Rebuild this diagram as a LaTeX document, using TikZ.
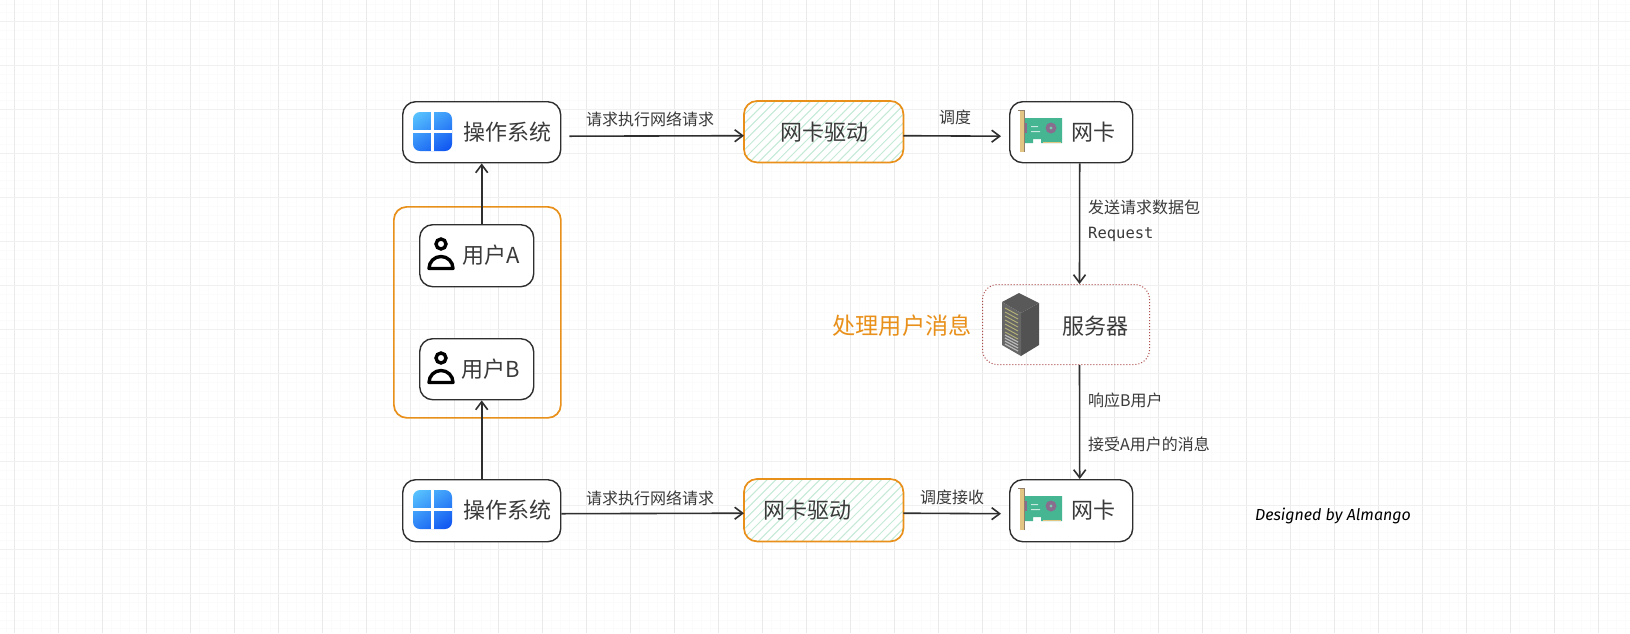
\documentclass[tikz,border=0pt]{standalone}
\usepackage{fontspec}
\setmainfont{Noto Sans CJK SC}
\newfontfamily\monof{DejaVu Sans Mono}
\newfontfamily\handf{Fira Sans}
\usetikzlibrary{arrows.meta,calc}
\definecolor{ink}{HTML}{2F2F2F}
\definecolor{txt}{HTML}{3A3A3A}
\definecolor{org}{HTML}{E8901A}
\definecolor{gmaj}{HTML}{EAEAEA}
\definecolor{gmin}{HTML}{FBFBFB}
\definecolor{hatch}{HTML}{C4EAD6}
\definecolor{winA}{HTML}{5CC9FF}
\definecolor{winB}{HTML}{0A4DF0}
\definecolor{board}{HTML}{45B592}
\definecolor{brack}{HTML}{E3C583}
\definecolor{chip}{HTML}{8A6D8E}
\tikzset{
  x=1pt,y=-1pt,
  plain/.style={draw=ink,line width=1.4pt,rounded corners=13pt,fill=white,inner sep=0pt,anchor=north west},
  orangebox/.style={draw=org,line width=1.7pt,rounded corners=13pt,inner sep=0pt,anchor=north west},
  hatchbox/.style={inner sep=0pt,anchor=north west},
  srvbox/.style={draw=red!55!black!70,line width=1pt,dash pattern=on 1pt off 2pt,rounded corners=15pt,inner sep=0pt,anchor=north west},
  big/.style={text=txt,font=\fontsize{22}{24}\selectfont,inner sep=0pt},
  small/.style={text=txt,font=\fontsize{16}{18}\selectfont,inner sep=0pt},
  conn/.style={draw=ink,line width=1.6pt,-{Straight Barb[length=8pt,width=12pt,line width=1.6pt]}},
}
\newcommand{\boxat}[6]{\node[#1,minimum width=#5pt,minimum height=#6pt] (#2) at (#3,#4) {};}
\newcommand{\winicon}[2]{%
  \begin{scope}[shift={(#1,#2)}]
    \begin{scope}
      \clip[rounded corners=7pt] (0,0) rectangle (39,39);
      \shade[top color=winA,bottom color=winB,shading angle=35] (-8,-8) rectangle (47,47);
      \fill[white] (18.2,-1) rectangle (20.8,40);
      \fill[white] (-1,18.2) rectangle (40,20.8);
    \end{scope}
  \end{scope}}
\newcommand{\nicicon}[2]{%
  \begin{scope}[shift={(#1,#2)}]
    \fill[board] (6,9) -- (44,9) -- (44,34) -- (23,34) -- (23,30) -- (15,30) -- (15,34) -- (6,34) -- cycle;
    \fill[chip] (33,19) circle (5.5);
    \fill[board!70!white] (33,19) circle (1.6);
    \fill[white!70!board] (13,17) rectangle (20,18) (13,22) rectangle (22,23);
    \fill[chip] (6,14) rectangle (9,24);
    \fill[brack] (25,32.5) rectangle (43,34);
    \fill[brack] (1.5,1) rectangle (6,43);
    \draw[gray!70!brown,line width=.7pt] (0,1) -- (6,1) -- (6,43);
  \end{scope}}
\newcommand{\usericon}[2]{%
  \begin{scope}[shift={(#1,#2)}]
    \draw[black,line width=3.4pt] (0,-8) circle (5);
    \draw[black,line width=3.4pt,line join=round] (-12,16.5) arc[start angle=180,end angle=360,radius=12] -- cycle;
  \end{scope}}
\begin{document}
\begin{tikzpicture}
\useasboundingbox (0,0) rectangle (1630,633);
\fill[white] (0,0) rectangle (1630,633);
% grid
\foreach \k in {0,...,185} {\draw[gmin,line width=.8pt] ({6+8.8*\k},0) -- ({6+8.8*\k},633);}
\foreach \k in {0,...,72} {\draw[gmin,line width=.8pt] (0,{4+8.8*\k}) -- (1630,{4+8.8*\k});}
\foreach \k in {0,...,37} {\draw[gmaj,line width=.8pt] ({14.7+44*\k},0) -- ({14.7+44*\k},633);}
\foreach \k in {0,...,14} {\draw[gmaj!70!white,line width=1pt] (0,{21.7+44*\k}) -- (1630,{21.7+44*\k});}
% group and boxes
\boxat{orangebox}{grp}{393}{206}{167}{211}
\boxat{plain}{os1}{402}{101}{158}{61}
\boxat{plain}{ua}{419}{224}{114}{62}
\boxat{plain}{ub}{419}{338}{114}{61}
\boxat{plain}{os2}{402}{479}{158}{62}
\boxat{hatchbox}{drv1}{744}{101}{159}{61}
\boxat{hatchbox}{drv2}{744}{479}{159}{62}
\boxat{plain}{nic1}{1009}{101}{123}{61}
\boxat{plain}{nic2}{1009}{479}{123}{62}
\boxat{srvbox}{srv}{982}{284}{167}{80}
% hatch
\foreach \n in {drv1,drv2} {
  \begin{scope}
    \clip[rounded corners=13pt] (\n.north west) rectangle (\n.south east);
    \fill[white] (\n.north west) rectangle (\n.south east);
    \foreach \k in {0,...,28} {
      \draw[hatch,line width=1pt] ($(\n.south west)+({-70+8.8*\k},5)$) -- ++(80,-80);
    }
  \end{scope}
  \draw[org,line width=1.7pt,rounded corners=13pt] (\n.north west) rectangle (\n.south east);
}
% icons
\winicon{413}{112}
\winicon{413}{490}
\nicicon{1018}{109}
\nicicon{1018}{487}
\usericon{441}{252}
\usericon{441}{366}
% server icon
\fill[gray!70!black] (1019,293) -- (1039,303) -- (1021,313) -- (1002,302) -- cycle;
\fill[black!68] (1021,313) -- (1039,303) -- (1039,345) -- (1021,356) -- cycle;
\fill[black!60] (1002,302) -- (1021,313) -- (1021,356) -- (1002,345) -- cycle;
\foreach \k in {0,...,6} {\draw[yellow!35!gray,line width=.9pt] (1005,{308+4*\k}) -- (1018,{315+4*\k});}
\foreach \k in {0,...,3} {\draw[gray!55!white,line width=1.2pt] (1005,{335+3*\k}) -- (1018,{342+3*\k});}
% texts
\node[big] (t1) at (507,132) {操作系统};
\node[big] (t2) at (507,510) {操作系统};
\node[big] (t3) at (824,132) {网卡驱动};
\node[big] (t4) at (807,510) {网卡驱动};
\node[big] (t5) at (1093,132) {网卡};
\node[big] (t6) at (1093,510) {网卡};
\node[big] (t7) at (491,255) {用户A};
\node[big] (t8) at (491,369) {用户B};
\node[big] (t9) at (1095,326) {服务器};
\node[big,text=org,font=\fontsize{23.2}{25}\selectfont] (t10) at (902,326) {处理用户消息};
\node[small] (l1) at (650,119.5) {请求执行网络请求};
\node[small] (l2) at (650,498) {请求执行网络请求};
\node[small] (l3) at (955,117) {调度};
\node[small] (l4) at (952,497.5) {调度接收};
\node[small,anchor=west] (l5) at (1088,207.5) {发送请求数据包};
\node[small,anchor=west,font=\monof\fontsize{15.5}{18}\selectfont] (l6) at (1088,234.5) {Request};
\node[small,anchor=west] (l7) at (1088,400) {响应B用户};
\node[small,anchor=west] (l8) at (1088,444) {接受A用户的消息};
\node[text=black,inner sep=0pt,font=\handf\itshape\fontsize{16}{19}\selectfont] (sig) at (1333,516) {Designed by Almango};
% connectors
\draw[conn] ([xshift=5pt]ua.north) -- (os1.south);
\draw[conn] (os2.north) -- ([xshift=5pt]ub.south);
\draw[conn] ([shift={(8,4)}]os1.east) -- ([yshift=-4pt]drv1.west);
\draw[conn] ([yshift=-3pt]os2.east) -- ([yshift=-3pt]drv2.west);
\draw[conn] ([yshift=-4pt]drv1.east) -- ([shift={(-8,4)}]nic1.west);
\draw[conn] ([yshift=-3pt]drv2.east) -- ([shift={(-8,3)}]nic2.west);
\draw[conn] ([xshift=8.5pt]nic1.south) -- ([xshift=13.5pt]srv.north);
\draw[conn] ([xshift=13.5pt]srv.south) -- ([xshift=8.5pt]nic2.north);
\end{tikzpicture}
\end{document}
